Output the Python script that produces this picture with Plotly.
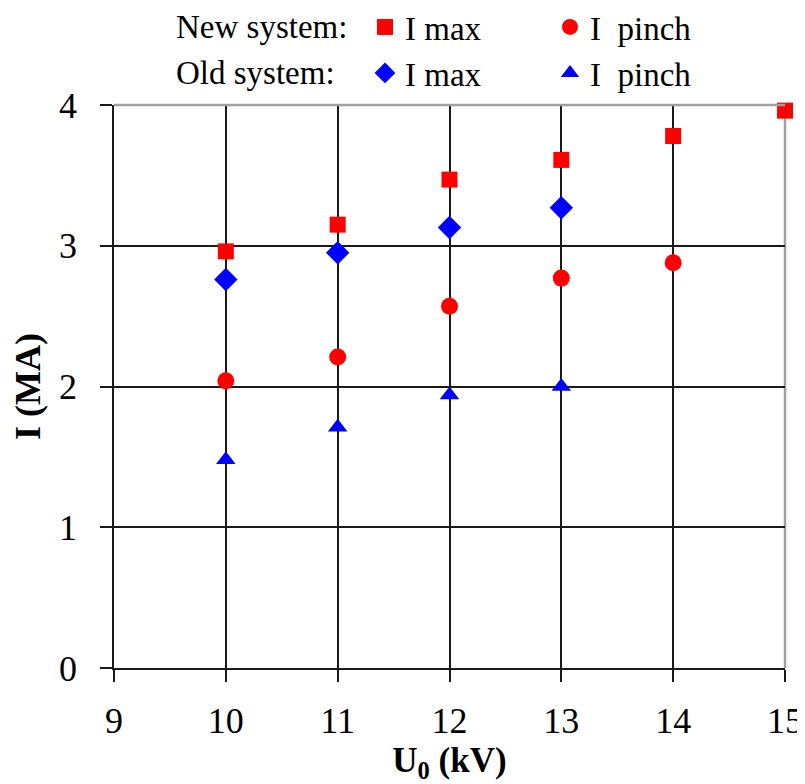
import plotly.graph_objects as go

# Data
u_new = [10, 11, 12, 13, 14, 15]
new_imax = [2.96, 3.15, 3.47, 3.61, 3.78, 3.96]
u_new_pinch = [10, 11, 12, 13, 14]
new_ipinch = [2.04, 2.21, 2.57, 2.77, 2.88]
u_old = [10, 11, 12, 13]
old_imax = [2.76, 2.95, 3.13, 3.27]
old_ipinch = [1.48, 1.71, 1.94, 2.00]

x_ticks = [9, 10, 11, 12, 13, 14, 15]
y_ticks = [0, 1, 2, 3, 4]

FONT = "Liberation Serif, Times New Roman, serif"
RED = "#ff0000"
BLUE = "#0000ff"
GRID = "#1a1a1a"

# page is offset by the 8px body margin; plot area in page px: x 114..785, y 105..668
PL, PR, PT, PB = 114, 785, 105, 668


def px_x(px):
    return (px - PL) / (PR - PL)


def px_y(py):
    return (PB - py) / (PB - PT)


fig = go.Figure()
fig.add_trace(go.Scatter(x=u_new, y=new_imax, mode="markers", name="I max",
                         marker=dict(symbol="square", size=16, color=RED),
                         cliponaxis=False, legend="legend"))
fig.add_trace(go.Scatter(x=u_new_pinch, y=new_ipinch, mode="markers", name="I  pinch",
                         marker=dict(symbol="circle", size=17, color=RED),
                         cliponaxis=False, legend="legend"))
fig.add_trace(go.Scatter(x=u_old, y=old_imax, mode="markers", name="I max",
                         marker=dict(symbol="diamond", size=18, color=BLUE),
                         cliponaxis=False, legend="legend2"))
fig.add_trace(go.Scatter(x=u_old, y=old_ipinch, mode="markers", name="I  pinch",
                         marker=dict(symbol="triangle-up", size=17, color=BLUE),
                         cliponaxis=False, legend="legend2"))

LEG_FONT = dict(family=FONT, size=33, color="black")
ROW1, ROW2 = 27, 73


def legend_cfg(py):
    return dict(orientation="h", xref="paper", yref="paper", xanchor="left",
                yanchor="middle", x=px_x(365), y=px_y(py),
                entrywidth=140, entrywidthmode="pixels",
                font=LEG_FONT, bgcolor="rgba(0,0,0,0)", borderwidth=0,
                traceorder="normal")


fig.update_layout(
    width=797, height=776,
    margin=dict(l=PL - 8, r=797 - (PR - 8), t=PT - 8, b=776 - (PB - 8), autoexpand=False),
    paper_bgcolor="white", plot_bgcolor="white",
    font=dict(family=FONT, size=36, color="black"),
    legend=legend_cfg(ROW1),
    legend2=legend_cfg(ROW2),
    annotations=[
        dict(text="New system:", x=px_x(174), y=px_y(ROW1), xref="paper", yref="paper",
             showarrow=False, xanchor="left", yanchor="middle", font=LEG_FONT),
        dict(text="Old system:", x=px_x(174), y=px_y(ROW2), xref="paper", yref="paper",
             showarrow=False, xanchor="left", yanchor="middle", font=LEG_FONT),
    ],
    shapes=[
        dict(type="line", xref="paper", yref="paper", x0=0, x1=1, y0=1, y1=1,
             line=dict(color="#a0a0a0", width=2.5), layer="above"),
        dict(type="line", xref="paper", yref="paper", x0=1, x1=1, y0=0, y1=1,
             line=dict(color="#a0a0a0", width=2.5), layer="below"),
    ],
    xaxis=dict(range=[9, 15], tickvals=x_ticks, ticktext=[str(v) for v in x_ticks],
               showgrid=True, gridcolor=GRID, gridwidth=1.5,
               showline=True, linecolor=GRID, linewidth=1.5,
               ticks="outside", ticklen=12, tickcolor=GRID, tickwidth=1.5,
               ticklabelstandoff=8,
               zeroline=False, automargin=False,
               title=dict(text="<b>U<sub>0</sub> (kV)</b>", font=dict(family=FONT, size=35), standoff=4),
               tickfont=dict(family=FONT, size=36)),
    yaxis=dict(range=[0, 4], tickvals=y_ticks, ticktext=[str(v) for v in y_ticks],
               showgrid=True, gridcolor=GRID, gridwidth=1.5,
               showline=True, linecolor=GRID, linewidth=1.5,
               ticks="outside", ticklen=12, tickcolor=GRID, tickwidth=1.5,
               ticklabelstandoff=16,
               zeroline=False, automargin=False,
               title=dict(text="<b>I (MA)</b>", font=dict(family=FONT, size=36), standoff=12),
               tickfont=dict(family=FONT, size=36)),
)

fig.write_html("out.html")
